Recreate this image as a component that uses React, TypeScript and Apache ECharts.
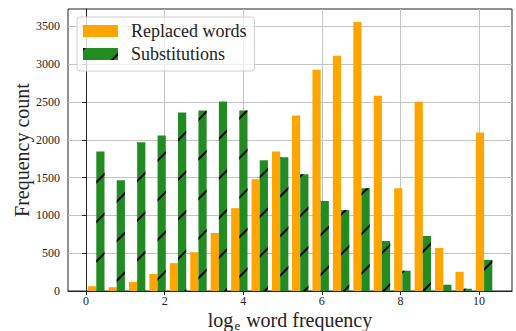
import React, { useEffect, useRef } from "react";
import * as echarts from "echarts";

const binCenters = [0.26, 0.78, 1.3, 1.82, 2.34, 2.86, 3.38, 3.9, 4.42, 4.94, 5.45, 5.97, 6.49, 7.01, 7.53, 8.05, 8.57, 9.09, 9.61, 10.13];
const replacedWords = [63, 50, 120, 225, 369, 513, 767, 1096, 1478, 1846, 2320, 2925, 3110, 3557, 2583, 1360, 2504, 570, 254, 2096];
const substitutions = [1846, 1465, 1968, 2058, 2361, 2388, 2507, 2388, 1728, 1768, 1544, 1189, 1070, 1360, 662, 268, 728, 83, 30, 412];
const xTicks = [0, 2, 4, 6, 8, 10];
const yTicks = [0, 500, 1000, 1500, 2000, 2500, 3000, 3500];
const seriesNames = ["Replaced words", "Substitutions"];

const FONT = "'Liberation Serif', 'Times New Roman', serif";

export default function App() {
  const ref = useRef<HTMLDivElement>(null);
  useEffect(() => {
    if (!ref.current) return;
    const chart = echarts.init(ref.current, null, { renderer: "svg" });
    chart.setOption({
      animation: false,
      grid: {
        left: 68,
        right: 4,
        top: 9,
        bottom: 40,
        show: true,
        borderColor: "#222",
        borderWidth: 1,
        containLabel: false,
        outerBoundsMode: "none",
      },
      legend: {
        orient: "vertical",
        left: 77,
        top: 17,
        icon: "rect",
        itemWidth: 35,
        itemHeight: 12,
        itemGap: 5,
        padding: [5, 8, 8, 6],
        borderColor: "#d0d0d0",
        borderWidth: 1,
        borderRadius: 3,
        backgroundColor: "rgba(255,255,255,0.8)",
        textStyle: { fontFamily: FONT, fontSize: 18, color: "#222", padding: [0, 0, 0, 8] },
        data: seriesNames,
      },
      xAxis: {
        type: "value",
        min: -0.46,
        max: 10.84,
        name: "{m|log}{s|e}{m| word frequency}",
        nameLocation: "middle",
        nameGap: 19,
        nameMoveOverlap: false,
        nameTextStyle: {
          rich: {
            m: { fontFamily: FONT, fontSize: 20, lineHeight: 20, color: "#222", verticalAlign: "top" },
            s: {
              fontFamily: FONT,
              fontSize: 13,
              lineHeight: 11,
              color: "#222",
              verticalAlign: "top",
              padding: [9, 1, 0, 1],
            },
          },
        },
        axisLine: { show: true, onZero: false, lineStyle: { color: "#222", width: 1 } },
        axisTick: { show: true, length: 4, customValues: xTicks, lineStyle: { color: "#222" } },
        axisLabel: {
          customValues: xTicks,
          margin: 5,
          fontFamily: FONT,
          fontSize: 12,
          lineHeight: 10,
          color: "#222",
          formatter: (v: number) => String(v),
        },
        splitLine: { show: true, lineStyle: { color: "#c4c4c4", width: 1 } },
      },
      yAxis: {
        type: "value",
        min: 0,
        max: 3730,
        name: "Frequency count",
        nameLocation: "middle",
        nameGap: 36,
        nameMoveOverlap: false,
        nameTextStyle: { fontFamily: FONT, fontSize: 20, color: "#222" },
        axisLine: { show: true, lineStyle: { color: "#222", width: 1 } },
        axisTick: { show: true, length: 4, customValues: yTicks, lineStyle: { color: "#222" } },
        axisLabel: {
          customValues: yTicks,
          margin: 8,
          fontFamily: FONT,
          fontSize: 12,
          color: "#222",
          formatter: (v: number) => String(v),
        },
        splitLine: { show: true, lineStyle: { color: "#c4c4c4", width: 1 } },
      },
      series: [
        {
          name: seriesNames[0],
          type: "bar",
          barWidth: 8.2,
          barGap: "0%",
          itemStyle: { color: "#FFA500" },
          data: binCenters.map((x, i) => [x, replacedWords[i]]),
        },
        {
          name: seriesNames[1],
          type: "bar",
          barWidth: 8.2,
          barGap: "0%",
          itemStyle: {
            color: "#228B22",
            decal: {
              symbol: "rect",
              symbolSize: 1,
              color: "#000",
              dashArrayX: [1, 0],
              dashArrayY: [1.2, 26],
              rotation: -Math.PI / 4,
            },
          },
          data: binCenters.map((x, i) => [x, substitutions[i]]),
        },
      ],
    });
    return () => chart.dispose();
  }, []);
  return (
    <div
      ref={ref}
      style={{ position: "fixed", left: 0, top: 0, width: 516, height: 331, background: "#fff" }}
    />
  );
}
